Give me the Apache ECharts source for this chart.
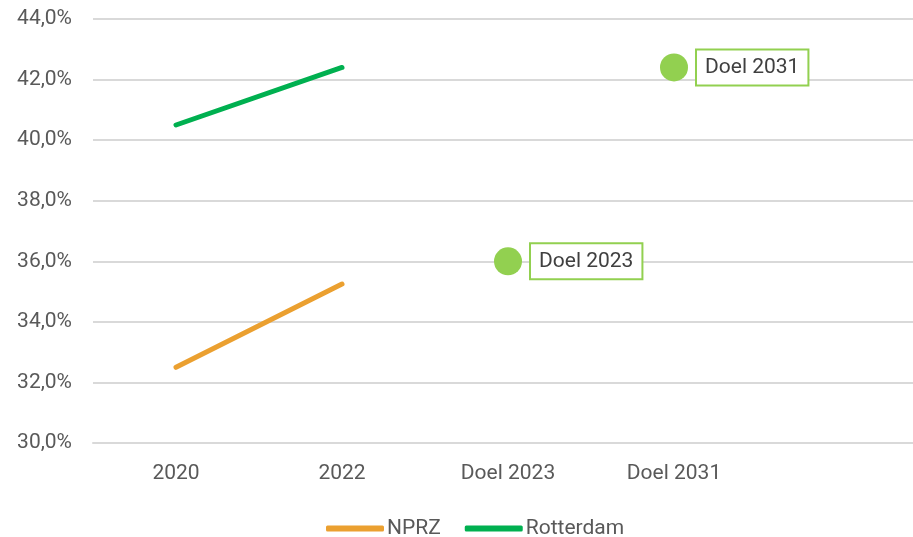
<!DOCTYPE html>
<html>
<head>
<meta charset="utf-8">
<script src="https://cdn.jsdelivr.net/npm/echarts@6/dist/echarts.min.js"></script>
<style>
  html, body { margin: 0; padding: 0; background: #fff; }
  #chart { width: 913px; height: 537px; }
</style>
</head>
<body>
<div id="chart"></div>
<script>
// categorieen op de x-as (laatste is leeg, geeft ruimte rechts)
const categories = ['2020', '2022', 'Doel 2023', 'Doel 2031', '']
// percentages per reeks
const nprz = [32.5, 35.25, null, null, null]
const rotterdam = [40.5, 42.4, null, null, null]
// doelen
const doelNamen = ['Doel 2023', 'Doel 2031']
const doelWaarden = [36.0, 42.4]
const yTicks = { min: 30, max: 44, interval: 2 }

const font = 'Roboto'
const myChart = echarts.init(document.getElementById('chart'))
const option = {
  animation: false,
  grid: {
    left: 93,
    width: 830,
    top: 19,
    bottom: 94,
    outerBoundsMode: 'none'
  },
  legend: {
    data: ['NPRZ', 'Rotterdam'],
    left: 321,
    top: 513,
    icon: 'roundRect',
    itemWidth: 58,
    itemHeight: 6,
    itemGap: 24,
    textStyle: {
      color: '#595959',
      fontFamily: font,
      fontSize: 21,
      padding: [0, 0, 0, -2]
    }
  },
  xAxis: {
    type: 'category',
    boundaryGap: true,
    data: categories,
    axisTick: { show: false },
    axisLine: {
      lineStyle: { color: '#D9D9D9', width: 2 }
    },
    axisLabel: {
      color: '#595959',
      fontFamily: font,
      fontSize: 21,
      margin: 20,
      interval: 0
    }
  },
  yAxis: {
    type: 'value',
    min: yTicks.min,
    max: yTicks.max,
    interval: yTicks.interval,
    axisLine: { show: false },
    axisTick: { show: false },
    axisLabel: {
      color: '#595959',
      fontFamily: font,
      fontSize: 21,
      margin: 21,
      formatter: (v) => v.toFixed(1).replace('.', ',') + '%'
    },
    splitLine: {
      lineStyle: { color: '#D9D9D9', width: 2 }
    }
  },
  series: [
    {
      name: 'NPRZ',
      type: 'line',
      data: nprz,
      showSymbol: false,
      itemStyle: { color: '#EBA030' },
      lineStyle: { color: '#EBA030', width: 5, cap: 'round' }
    },
    {
      name: 'Rotterdam',
      type: 'line',
      data: rotterdam,
      showSymbol: false,
      itemStyle: { color: '#00B050' },
      lineStyle: { color: '#00B050', width: 5, cap: 'round' }
    },
    {
      name: 'Doel',
      type: 'scatter',
      symbolSize: 28,
      itemStyle: { color: '#92D050', opacity: 1 },
      data: doelNamen.map((n, i) => [n, doelWaarden[i]]),
      label: {
        show: true,
        position: 'right',
        distance: 9,
        formatter: (p) => p.value[0],
        color: '#404040',
        fontFamily: font,
        fontSize: 21,
        backgroundColor: '#fff',
        borderColor: '#92D050',
        borderWidth: 2,
        padding: [7, 8, 6, 8]
      }
    }
  ]
}
myChart.setOption(option)
</script>
</body>
</html>
